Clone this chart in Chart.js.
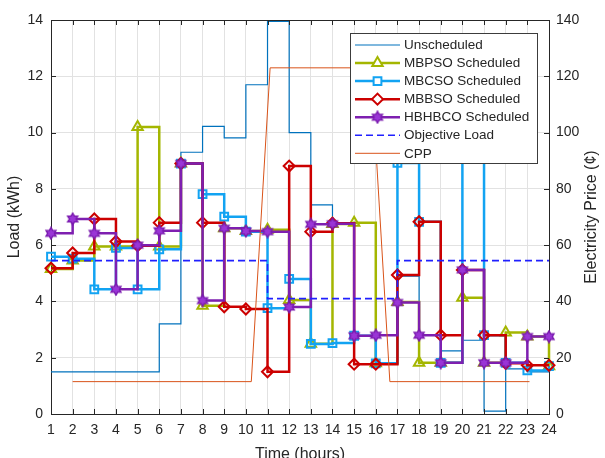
<!DOCTYPE html>
<html>
<head>
<meta charset="utf-8">
<title>Load scheduling</title>
<script src="https://cdn.jsdelivr.net/npm/chart.js@4.4.0/dist/chart.umd.min.js"></script>
<style>
  html, body { margin: 0; padding: 0; background: #fff; }
</style>
</head>
<body>
<canvas id="loadChart" width="605" height="458"></canvas>
<script>
// hours on the x axis
const hours = [1, 2, 3, 4, 5, 6, 7, 8, 9, 10, 11, 12, 13, 14, 15, 16, 17, 18, 19, 20, 21, 22, 23, 24];
const hourLabels = ['1', '2', '3', '4', '5', '6', '7', '8', '9', '10', '11', '12',
  '13', '14', '15', '16', '17', '18', '19', '20', '21', '22', '23', '24'];

// load in kWh, one value per hour (stairs)
const unscheduled = [1.5, 1.5, 1.5, 1.5, 1.5, 3.2, 9.3, 10.22, 9.81, 11.7, 13.95, 10.0,
  7.43, 6.8, 6.8, 1.8, 4.9, 2.8, 2.24, 2.62, 0.1, 1.6, 1.5, 1.5];
const mbpso = [5.15, 5.45, 5.95, 5.95, 10.2, 5.95, 8.9, 3.85, 6.6, 6.5, 6.55, 4.05,
  2.5, 6.75, 6.8, 1.8, 3.98, 1.82, 1.82, 4.13, 1.82, 2.9, 2.75, 1.7];
const mbcso = [5.59, 5.52, 4.43, 5.9, 4.43, 5.85, 8.9, 7.81, 7.01, 6.48, 3.76, 4.8,
  2.49, 2.52, 2.78, 1.8, 8.92, 6.83, 1.82, 9.5, 2.8, 1.82, 1.55, 1.7];
const mbbso = [5.18, 5.72, 6.93, 6.13, 5.98, 6.8, 8.9, 6.8, 3.81, 3.73, 1.5, 8.81,
  6.48, 6.78, 1.77, 1.77, 4.94, 6.83, 2.8, 5.12, 2.8, 1.8, 1.73, 1.73];
const hbhbco = [6.42, 6.93, 6.42, 4.43, 6.0, 6.51, 8.9, 4.03, 6.6, 6.5, 6.48, 3.8,
  6.74, 6.76, 2.78, 2.8, 3.96, 2.8, 1.82, 5.12, 1.82, 1.82, 2.75, 2.75];
const objectiveLoad = [5.45, 5.45, 5.45, 5.45, 5.45, 5.45, 5.45, 5.45, 5.45, 5.45, 4.1, 4.1,
  4.1, 4.1, 4.1, 4.1, 5.45, 5.45, 5.45, 5.45, 5.45, 5.45, 5.45, 5.45];

// critical peak price (cents), right axis
const cppHours = [2, 10.25, 11.12, 15.78, 16.65, 23.1];
const cppPrice = [11.5, 11.5, 123, 123, 11.5, 11.5];

const fontFamily = "'Liberation Sans', Arial, Helvetica, sans-serif";
const ink = '#262626';

function pts(xs, ys) {
  return xs.map((x, i) => ({ x: x, y: ys[i] }));
}

// hexagram marker (no built-in one in Chart.js)
function makeHexagram(size, fill, stroke) {
  const c = document.createElement('canvas');
  c.width = size;
  c.height = size;
  const g = c.getContext('2d');
  const cx = size / 2, cy = size / 2;
  const R = size / 2 - 1.2, r = R / Math.sqrt(3);
  g.beginPath();
  for (let k = 0; k < 12; k++) {
    const rad = k % 2 === 0 ? R : r;
    const a = -Math.PI / 2 + k * Math.PI / 6;
    const px = cx + rad * Math.cos(a), py = cy + rad * Math.sin(a);
    if (k === 0) g.moveTo(px, py); else g.lineTo(px, py);
  }
  g.closePath();
  g.fillStyle = fill;
  g.fill();
  g.lineWidth = 1.4;
  g.strokeStyle = stroke;
  g.stroke();
  return c;
}
const hexMarker = makeHexagram(14, '#9a35d6', '#7a1aae');

const stairs = { stepped: 'before', fill: false, clip: false, borderJoinStyle: 'miter', borderCapStyle: 'butt', pointHoverRadius: 0 };

const datasets = [
  Object.assign({}, stairs, {
    label: 'Unscheduled', data: pts(hours, unscheduled),
    borderColor: '#0072BD', borderWidth: 1.2, pointRadius: 0, order: 7
  }),
  Object.assign({}, stairs, {
    label: 'MBPSO Scheduled', data: pts(hours, mbpso),
    borderColor: '#a4b600', borderWidth: 2.5,
    pointStyle: 'triangle', pointRadius: 6, pointBorderWidth: 2,
    pointBorderColor: '#a4b600', pointBackgroundColor: 'rgba(0,0,0,0)', order: 6
  }),
  Object.assign({}, stairs, {
    label: 'MBCSO Scheduled', data: pts(hours, mbcso),
    borderColor: '#12a3f2', borderWidth: 2.5,
    pointStyle: 'rect', pointRadius: 5.5, pointBorderWidth: 2,
    pointBorderColor: '#12a3f2', pointBackgroundColor: 'rgba(0,0,0,0)', order: 5
  }),
  Object.assign({}, stairs, {
    label: 'MBBSO Scheduled', data: pts(hours, mbbso),
    borderColor: '#cc0000', borderWidth: 2.5,
    pointStyle: 'rectRot', pointRadius: 5.5, pointBorderWidth: 2,
    pointBorderColor: '#cc0000', pointBackgroundColor: 'rgba(0,0,0,0)', order: 4
  }),
  Object.assign({}, stairs, {
    label: 'HBHBCO Scheduled', data: pts(hours, hbhbco),
    borderColor: '#7e1fb0', borderWidth: 2.5,
    pointStyle: hexMarker, pointRadius: 6, order: 3
  }),
  Object.assign({}, stairs, {
    label: 'Objective Load', data: pts(hours, objectiveLoad),
    borderColor: '#2020ff', borderWidth: 1.6, borderDash: [7, 4], pointRadius: 0, order: 2
  }),
  {
    label: 'CPP', data: pts(cppHours, cppPrice), yAxisID: 'y2',
    borderColor: '#d95319', borderWidth: 1, pointRadius: 0, fill: false, tension: 0, order: 1
  }
];

// inward tick marks, top frame line and the right axis title (reads bottom to top)
const frameTicks = {
  id: 'frameTicks',
  afterDraw(chart) {
    const { ctx, chartArea: a, scales } = chart;
    ctx.save();
    ctx.strokeStyle = ink;
    ctx.lineWidth = 1;
    ctx.beginPath();
    ctx.moveTo(a.left, a.top + 0.5);
    ctx.lineTo(a.right, a.top + 0.5);
    hours.forEach(h => {
      const x = Math.round(scales.x.getPixelForValue(h)) + 0.5;
      ctx.moveTo(x, a.bottom); ctx.lineTo(x, a.bottom - 5);
      ctx.moveTo(x, a.top); ctx.lineTo(x, a.top + 5);
    });
    scales.y.ticks.forEach(t => {
      const y = Math.round(scales.y.getPixelForValue(t.value)) + 0.5;
      ctx.moveTo(a.left, y); ctx.lineTo(a.left + 5, y);
    });
    scales.y2.ticks.forEach(t => {
      const y = Math.round(scales.y2.getPixelForValue(t.value)) + 0.5;
      ctx.moveTo(a.right, y); ctx.lineTo(a.right - 5, y);
    });
    ctx.stroke();

    ctx.translate(592, (a.top + a.bottom) / 2);
    ctx.rotate(-Math.PI / 2);
    ctx.font = '16px ' + fontFamily;
    ctx.fillStyle = ink;
    ctx.textAlign = 'center';
    ctx.textBaseline = 'middle';
    ctx.fillText('Electricity Price (¢)', 0, 0);
    ctx.restore();
  }
};

function drawMarker(ctx, ds, x, y) {
  if (!ds.pointRadius) return;
  if (ds.pointStyle instanceof HTMLCanvasElement) {
    ctx.drawImage(ds.pointStyle, x - ds.pointStyle.width / 2, y - ds.pointStyle.height / 2);
    return;
  }
  ctx.strokeStyle = ds.pointBorderColor;
  ctx.fillStyle = '#fff';
  ctx.lineWidth = ds.pointBorderWidth;
  ctx.setLineDash([]);
  Chart.helpers.drawPoint(ctx, { pointStyle: ds.pointStyle, radius: ds.pointRadius, rotation: 0, borderWidth: ds.pointBorderWidth }, x, y);
}

// boxed legend inside the plot, upper right
const boxLegend = {
  id: 'boxLegend',
  afterDraw(chart) {
    const ctx = chart.ctx;
    const bx = 350.5, by = 33.5, bw = 187, bh = 130;
    ctx.save();
    ctx.fillStyle = '#fff';
    ctx.fillRect(bx, by, bw, bh);
    ctx.strokeStyle = '#3c3c3c';
    ctx.lineWidth = 1;
    ctx.strokeRect(bx, by, bw, bh);
    ctx.font = '13.5px ' + fontFamily;
    ctx.textBaseline = 'middle';
    ctx.textAlign = 'left';
    chart.data.datasets.forEach((ds, i) => {
      const y = 45 + i * 18.05;
      ctx.strokeStyle = ds.borderColor;
      ctx.lineWidth = ds.borderWidth;
      ctx.setLineDash(ds.borderDash || []);
      ctx.beginPath();
      ctx.moveTo(355, y);
      ctx.lineTo(400, y);
      ctx.stroke();
      drawMarker(ctx, ds, 377.5, y);
      ctx.fillStyle = ink;
      ctx.fillText(ds.label, 404, y + 0.5);
    });
    ctx.restore();
  }
};

const tickFont = { family: fontFamily, size: 14 };
const titleFont = { family: fontFamily, size: 16 };

new Chart(document.getElementById('loadChart').getContext('2d'), {
  type: 'line',
  data: { datasets: datasets },
  options: {
    responsive: false,
    animation: false,
    events: [],
    layout: { padding: { top: 20, left: 0, right: 0, bottom: 0 } },
    plugins: { legend: { display: false }, tooltip: { enabled: false } },
    scales: {
      x: {
        type: 'linear', min: 1, max: 24,
        ticks: {
          stepSize: 1, autoSkip: false, maxRotation: 0, padding: 8, color: ink, font: tickFont,
          callback: v => hourLabels[hours.indexOf(v)]
        },
        grid: { color: '#e2e2e2', drawTicks: false },
        border: { color: ink },
        title: { display: true, text: 'Time (hours)', color: ink, font: titleFont, padding: { top: 0, bottom: -6 } },
        afterFit: s => { s.height = 44; }
      },
      y: {
        position: 'left', min: 0, max: 14,
        ticks: { stepSize: 2, padding: 8, color: ink, font: tickFont },
        grid: { color: '#e2e2e2', drawTicks: false },
        border: { color: ink },
        title: { display: true, text: 'Load (kWh)', color: ink, font: titleFont, padding: { top: 4.5, bottom: 0 } },
        afterFit: s => { s.width = 51; }
      },
      y2: {
        position: 'right', min: 0, max: 140,
        ticks: { stepSize: 20, padding: 7, color: ink, font: tickFont },
        grid: { drawOnChartArea: false, drawTicks: false },
        border: { color: ink },
        afterFit: s => { s.width = 56; }
      }
    }
  },
  plugins: [frameTicks, boxLegend]
});
</script>
</body>
</html>
